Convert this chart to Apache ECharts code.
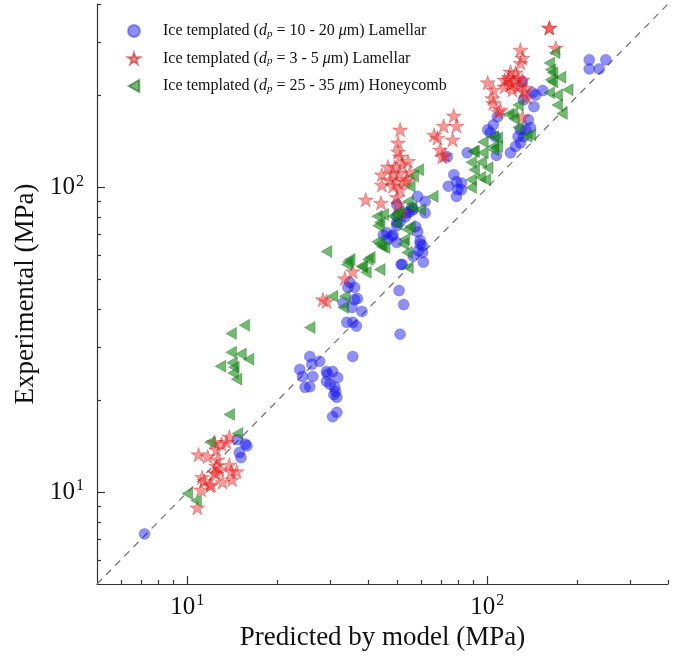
<!DOCTYPE html>
<html>
<head>
<meta charset="utf-8">
<script src="https://cdn.jsdelivr.net/npm/echarts@6/dist/echarts.min.js"></script>
<style>
html,body{margin:0;padding:0;background:#fff;}
#main{width:675px;height:669px;}
</style>
</head>
<body>
<div id="main"></div>
<script>
// axis range and ticks
var axisRange = [5, 400];
var majorTicks = [10, 100];
var minorTicks = [6, 7, 8, 9, 20, 30, 40, 50, 60, 70, 80, 90, 200, 300, 400];
var diagLine = [[5, 5], [400, 400]];

// Ice templated 10-20 um lamellar (blue circles), [predicted, experimental]
var lamellarCoarse = [
  [7.2,7.3],[14.7,14.9],[15.8,14.2],[14.9,13.5],[15.1,13.0],[15.6,14.4],
  [23.7,25.3],[25.6,27.9],[26.0,26.3],[24.2,24.0],[26.2,24.0],[27.6,26.9],[24.7,22.1],[25.6,22.2],
  [29.1,24.9],[29.3,24.4],[30.5,24.9],[31.7,23.8],[29.1,23.1],[29.9,22.6],[31.0,22.1],[31.2,21.4],
  [30.8,20.9],[31.5,20.5],[31.5,18.3],[30.5,17.7],[35.6,27.9],[34.0,36.1],
  [34.3,47.0],[36.1,47.0],[36.1,42.9],[36.9,43.2],[33.1,41.9],[35.4,40.4],[38.2,39.2],[35.6,36.1],
  [36.6,35.1],[34.8,48.8],
  [50.8,45.9],[52.6,41.3],[51.2,33.0],[51.6,55.9],
  [46.3,71.1],[48.5,69.8],[49.9,66.0],[46.6,67.5],[57.7,74.4],[58.6,71.5],[59.7,67.0],[60.8,64.4],
  [56.6,59.5],[60.8,61.2],[61.2,56.9],[62.0,82.6],[56.6,84.6],[54.0,82.6],[53.3,80.2],[49.9,76.7],
  [52.0,55.9],[58.6,93.5],[62.0,90.0],[56.0,86.0],[55.2,83.3],[49.9,80.4],[51.2,77.3],[49.9,75.0],
  [45.0,69.8],[48.1,69.2],[59.7,65.3],[58.9,62.0],[49.9,88.0],
  [73.5,126.1],[85.7,130.0],[77.3,110.2],[78.9,104.4],[74.1,101.0],[79.7,98.4],[78.9,93.5],
  [107.2,127.4],[119.4,130.0],[124.1,136.4],[128.9,140.2],[132.0,146.9],[126.6,146.9],[134.2,154.7],
  [139.2,157.2],[137.0,166.8],[128.9,154.7],[100.3,154.7],[102.3,151.3],[104.7,160.5],[108.0,170.5],
  [106.4,146.9],[132.0,194.0],[143.0,184.2],[144.7,201.1],[130.9,222.0],[141.4,204.6],[153.0,208.0],
  [218.6,262.4],[218.6,245.0],[236.0,245.0],[248.2,262.4],[81.9,103.5],[81.9,98.4]
];

// Ice templated 3-5 um lamellar (red stars)
var lamellarFine = [
  [10.8,8.9],[10.9,13.3],[11.7,13.1],[12.5,13.8],[12.3,14.6],[13.0,14.4],[13.8,15.2],[13.5,14.6],
  [12.6,12.8],[12.5,12.2],[12.8,11.9],[12.3,11.6],[12.5,11.5],[13.8,12.3],[14.6,11.7],[14.0,11.7],
  [14.1,11.0],[13.1,10.8],[11.2,11.2],[11.4,10.9],[11.9,10.5],[11.1,10.2],[12.0,10.6],
  [35.6,53.0],[33.5,50.3],[29.1,42.3],[28.3,42.9],
  [51.2,154.7],[50.4,140.2],[50.4,131.0],[51.2,126.1],[46.6,117.0],[49.1,117.0],[52.0,119.0],[54.4,122.0],
  [55.2,112.0],[48.5,111.2],[51.2,111.2],[44.5,110.2],[47.4,106.1],[49.9,104.4],[53.3,104.4],[44.5,102.0],
  [48.5,101.0],[51.2,98.4],[54.0,106.1],[39.3,91.2],[44.2,89.0],[49.9,92.9],[50.4,88.0],[52.0,83.3],
  [71.5,159.2],[78.9,159.2],[77.3,172.0],[66.5,148.8],[68.2,145.5],[76.6,143.5],[69.6,133.0],[70.7,126.1],
  [72.3,127.7],
  [160.9,334.0],[160.9,334.0],[169.0,287.3],[128.9,282.9],[130.9,266.0],[128.9,256.0],[119.4,239.7],[124.1,238.0],
  [126.6,229.0],[130.9,225.6],[114.2,225.6],[117.6,225.6],[119.4,217.0],[100.3,221.0],[104.7,209.2],
  [121.3,209.2],[132.0,206.0],[135.4,198.0],[104.0,196.0],[104.7,189.0],[110.5,179.9],[130.9,170.7],
  [127.0,214.0],[114.0,214.0],[109.0,177.0],[118.0,230.0],[122.6,221.0],[134.2,212.0]
];

// Ice templated 25-35 um honeycomb (green triangles)
var honeycomb = [
  [13.8,18.0],[14.7,15.6],[11.9,14.6],[10.0,9.9],[10.7,9.4],
  [15.5,35.3],[14.0,33.2],[14.0,28.8],[15.1,28.4],[16.0,27.3],[12.9,25.9],[14.1,26.6],[14.3,25.7],
  [14.2,24.6],[14.6,23.5],
  [25.6,34.7],[29.1,61.6],[40.0,58.0],[34.3,57.1],[34.0,55.9],[38.4,54.9],[39.4,52.7],[43.8,53.8],
  [54.4,54.6],[30.5,44.0],[33.5,44.0],[33.1,40.4],
  [42.9,80.4],[45.0,81.5],[43.8,76.7],[43.2,74.9],[42.9,66.4],[44.5,64.0],[45.5,63.5],[52.9,67.5],
  [54.0,72.8],[59.7,84.6],[50.8,83.3],[56.0,86.2],[48.5,80.4],[49.9,76.1],[58.9,114.4],[56.6,109.0],
  [55.2,101.0],[65.8,93.5],[54.4,90.0],[49.9,81.5],[55.2,74.4],[43.8,65.3],[52.4,65.3],[54.0,61.2],
  [40.6,58.9],[34.8,58.0],[38.0,55.2],
  [89.6,131.4],[88.3,121.0],[88.3,106.1],[88.3,100.0],
  [167.6,277.0],[160.9,256.0],[162.4,243.3],[165.0,238.0],[162.4,225.6],[175.4,230.0],[165.0,222.0],
  [160.9,204.6],[170.9,201.1],[185.4,209.2],[170.9,186.6],[177.4,175.0],[126.6,186.6],[121.3,175.0],
  [117.6,174.0],[122.6,168.0],[126.6,157.2],[139.2,148.8],[135.4,146.9],[104.7,146.9],[108.0,145.5],
  [96.7,141.0],[104.7,136.4],[108.0,136.4],[90.4,131.4],[96.7,130.0],[104.7,133.0],[95.5,121.0],
  [100.3,116.0],[90.4,114.4],[94.8,108.0],[98.6,106.1]
];

var seriesNames = [
  'Ice templated (dp = 10 - 20 μm) Lamellar',
  'Ice templated (dp = 3 - 5 μm) Lamellar',
  'Ice templated (dp = 25 - 35 μm) Honeycomb'
];
var legendRich = {};
legendRich[seriesNames[0]] = '{f|Ice templated (}{i|d}{sub|p}{n| = 10 - 20 }{i|μ}{n|m) Lamellar}';
legendRich[seriesNames[1]] = '{f|Ice templated (}{i|d}{sub|p}{n| = 3 - 5 }{i|μ}{n|m) Lamellar}';
legendRich[seriesNames[2]] = '{f|Ice templated (}{i|d}{sub|p}{n| = 25 - 35 }{i|μ}{n|m) Honeycomb}';

var starPath = 'path://M50 0 L61.2 34.5 L97.6 34.5 L68.2 55.9 L79.4 90.5 L50 69.1 L20.6 90.5 L31.8 55.9 L2.4 34.5 L38.8 34.5 Z';
var leftTriPath = 'path://M0 50 L88 0 L88 100 Z';
var serif = '"Liberation Serif", "DejaVu Serif", serif';

var powRich = {
  b: {fontFamily: serif, fontSize: 25, color: '#111'},
  s: {fontFamily: serif, fontSize: 16, color: '#111', padding: [0, 0, 12, 1]}
};
function powLabel(v) {
  return '{b|10}{s|' + Math.round(Math.log10(v)) + '}';
}

var chart = echarts.init(document.getElementById('main'));
var option = {
  animation: false,
  backgroundColor: '#fff',
  grid: {left: 97, right: 7, top: 4, bottom: 85},
  legend: {
    orient: 'vertical',
    left: 122,
    top: 18,
    itemWidth: 12,
    itemHeight: 12,
    itemGap: 11,
    data: seriesNames,
    formatter: function (name) { return legendRich[name]; },
    textStyle: {
      rich: {
        f: {fontFamily: serif, fontSize: 16, color: '#111', padding: [0, 0, 0, 18]},
        n: {fontFamily: serif, fontSize: 16, color: '#111'},
        i: {fontFamily: serif, fontSize: 16, fontStyle: 'italic', color: '#111'},
        sub: {fontFamily: serif, fontSize: 11, fontStyle: 'italic', color: '#111', padding: [6, 0, 0, 0]}
      }
    }
  },
  xAxis: [{
    type: 'log', logBase: 10, min: axisRange[0], max: axisRange[1],
    position: 'bottom',
    name: 'Predicted by model (MPa)', nameLocation: 'middle', nameGap: 40,
    nameMoveOverlap: false,
    nameTextStyle: {fontFamily: serif, fontSize: 27, color: '#111'},
    axisLine: {show: true, lineStyle: {color: '#333', width: 1.2}},
    axisTick: {show: true, inside: true, length: 8, customValues: majorTicks, lineStyle: {color: '#333', width: 1.2}},
    axisLabel: {show: true, margin: 9, customValues: majorTicks, formatter: powLabel, rich: powRich},
    splitLine: {show: false},
    minorTick: {show: false}
  }, {
    type: 'log', logBase: 10, min: axisRange[0], max: axisRange[1],
    position: 'bottom',
    axisLine: {show: false},
    axisTick: {show: true, inside: true, length: 4, customValues: minorTicks, lineStyle: {color: '#333', width: 1.2}},
    axisLabel: {show: false},
    splitLine: {show: false}
  }],
  yAxis: [{
    type: 'log', logBase: 10, min: axisRange[0], max: axisRange[1],
    position: 'left',
    name: 'Experimental (MPa)', nameLocation: 'middle', nameGap: 56,
    nameTextStyle: {fontFamily: serif, fontSize: 27, color: '#111'},
    axisLine: {show: true, lineStyle: {color: '#333', width: 1.2}},
    axisTick: {show: true, inside: true, length: 8, customValues: majorTicks, lineStyle: {color: '#333', width: 1.2}},
    axisLabel: {show: true, margin: 13, customValues: majorTicks, formatter: powLabel, rich: powRich},
    splitLine: {show: false}
  }, {
    type: 'log', logBase: 10, min: axisRange[0], max: axisRange[1],
    position: 'left',
    axisLine: {show: false},
    axisTick: {show: true, inside: true, length: 4, customValues: minorTicks, lineStyle: {color: '#333', width: 1.2}},
    axisLabel: {show: false},
    splitLine: {show: false}
  }],
  series: [{
    type: 'line',
    data: diagLine,
    symbol: 'none',
    silent: true,
    lineStyle: {color: '#777', width: 1.3, type: [7, 6]},
    z: 1
  }, {
    name: seriesNames[0],
    type: 'scatter',
    data: lamellarCoarse,
    symbol: 'circle',
    symbolSize: 11,
    itemStyle: {color: 'rgba(20,20,240,0.6)', borderColor: 'rgba(20,20,200,0.5)', borderWidth: 0.6},
    z: 2
  }, {
    name: seriesNames[1],
    type: 'scatter',
    data: lamellarFine,
    symbol: starPath,
    symbolKeepAspect: true,
    symbolSize: 15,
    itemStyle: {color: 'rgba(250,40,40,0.6)', borderColor: 'rgba(160,0,0,0.6)', borderWidth: 0.6},
    z: 3
  }, {
    name: seriesNames[2],
    type: 'scatter',
    data: honeycomb,
    symbol: leftTriPath,
    symbolKeepAspect: true,
    symbolSize: 12,
    itemStyle: {color: 'rgba(20,140,20,0.75)', borderColor: 'rgba(0,70,0,0.6)', borderWidth: 0.6},
    z: 4
  }]
};
chart.setOption(option);
</script>
</body>
</html>
